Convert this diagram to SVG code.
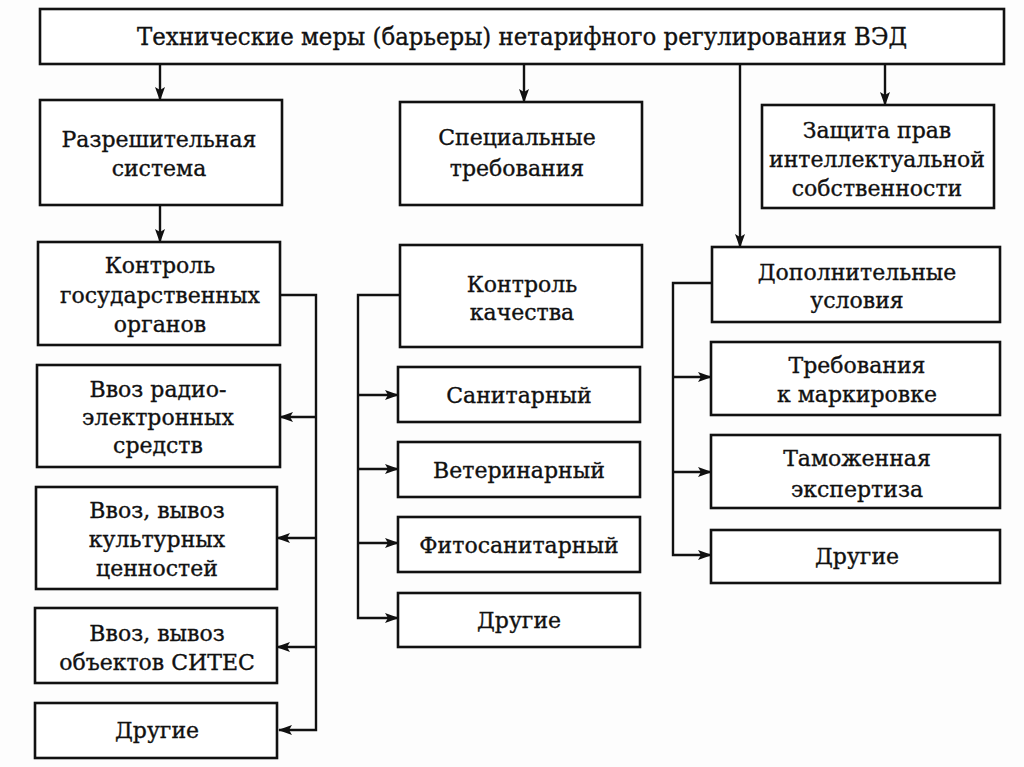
<svg xmlns="http://www.w3.org/2000/svg" width="1024" height="767" viewBox="0 0 1024 767">
<defs>
<marker id="ah" markerUnits="userSpaceOnUse" markerWidth="14" markerHeight="10" refX="13" refY="5" orient="auto">
<path d="M0,0 L14,5 L0,10 L3,5 z" fill="#111"/>
</marker>
<style>
.box{fill:#fff;stroke:#111;stroke-width:2.6}
.a{fill:none;stroke:#111;stroke-width:2.4;marker-end:url(#ah)}
</style>
</defs>
<rect width="1024" height="767" fill="#fdfdfd"/>
<g id="connectors">
<line class="a" x1="160" y1="64" x2="160" y2="100"/>
<line class="a" x1="524" y1="64" x2="524" y2="102"/>
<line class="a" x1="740" y1="64" x2="740" y2="247"/>
<line class="a" x1="885" y1="64" x2="885" y2="105"/>
<line class="a" x1="160" y1="205" x2="160" y2="242"/>
<path class="a" d="M280,295 H316 V730 H279"/>
<line class="a" x1="316" y1="417" x2="280" y2="417"/>
<line class="a" x1="316" y1="538" x2="277" y2="538"/>
<line class="a" x1="316" y1="647" x2="277" y2="647"/>
<path class="a" d="M400,295 H358 V618 H398"/>
<line class="a" x1="358" y1="395" x2="398" y2="395"/>
<line class="a" x1="358" y1="469" x2="398" y2="469"/>
<line class="a" x1="358" y1="543" x2="398" y2="543"/>
<path class="a" d="M712,283 H673 V555 H711"/>
<line class="a" x1="673" y1="377" x2="711" y2="377"/>
<line class="a" x1="673" y1="472" x2="711" y2="472"/>
</g>
<g font-family="DejaVu Serif, Liberation Serif, serif" font-size="22" fill="#111" stroke="#111" stroke-width="0.35" text-anchor="middle">
<g id="title">
<rect class="box" x="40" y="9" width="964" height="55"/>
<text x="522" y="45" font-size="24" textLength="770" lengthAdjust="spacingAndGlyphs">Технические меры (барьеры) нетарифного регулирования ВЭД</text>
</g>
<g id="razresh">
<rect class="box" x="40" y="100" width="242" height="105"/>
<text x="159" y="147">Разрешительная</text>
<text x="159" y="176">система</text>
</g>
<g id="spec">
<rect class="box" x="400" y="102" width="242" height="103"/>
<text x="517" y="145">Специальные</text>
<text x="517" y="176">требования</text>
</g>
<g id="zaschita">
<rect class="box" x="762" y="105" width="232" height="103"/>
<text x="877" y="138">Защита прав</text>
<text x="877" y="167">интеллектуальной</text>
<text x="877" y="196">собственности</text>
</g>
<g id="kontrol-gos">
<rect class="box" x="38" y="242" width="242" height="103"/>
<text x="160" y="273">Контроль</text>
<text x="160" y="303">государственных</text>
<text x="160" y="332">органов</text>
</g>
<g id="radio">
<rect class="box" x="37" y="365" width="243" height="102"/>
<text x="158" y="397">Ввоз радио-</text>
<text x="158" y="425">электронных</text>
<text x="158" y="453">средств</text>
</g>
<g id="kultur">
<rect class="box" x="36" y="487" width="241" height="102"/>
<text x="157" y="518">Ввоз, вывоз</text>
<text x="157" y="547">культурных</text>
<text x="157" y="576">ценностей</text>
</g>
<g id="sites">
<rect class="box" x="35" y="608" width="242" height="75"/>
<text x="157" y="641">Ввоз, вывоз</text>
<text x="157" y="670">объектов СИТЕС</text>
</g>
<g id="drugie1">
<rect class="box" x="35" y="703" width="242" height="55"/>
<text x="157" y="738">Другие</text>
</g>
<g id="kontrol-kach">
<rect class="box" x="400" y="245" width="242" height="102"/>
<text x="522" y="292">Контроль</text>
<text x="522" y="320">качества</text>
</g>
<g id="sanit">
<rect class="box" x="398" y="367" width="242" height="55"/>
<text x="519" y="403">Санитарный</text>
</g>
<g id="veter">
<rect class="box" x="398" y="442" width="242" height="55"/>
<text x="519" y="478">Ветеринарный</text>
</g>
<g id="fito">
<rect class="box" x="398" y="517" width="242" height="55"/>
<text x="519" y="553">Фитосанитарный</text>
</g>
<g id="drugie2">
<rect class="box" x="398" y="593" width="242" height="54"/>
<text x="519" y="628">Другие</text>
</g>
<g id="dopoln">
<rect class="box" x="712" y="247" width="288" height="75"/>
<text x="857" y="280">Дополнительные</text>
<text x="857" y="308">условия</text>
</g>
<g id="markirovka">
<rect class="box" x="711" y="342" width="289" height="73"/>
<text x="857" y="373">Требования</text>
<text x="857" y="402">к маркировке</text>
</g>
<g id="tamozh">
<rect class="box" x="711" y="435" width="289" height="73"/>
<text x="857" y="466">Таможенная</text>
<text x="857" y="497">экспертиза</text>
</g>
<g id="drugie3">
<rect class="box" x="711" y="530" width="289" height="53"/>
<text x="857" y="564">Другие</text>
</g>
</g>
</svg>
